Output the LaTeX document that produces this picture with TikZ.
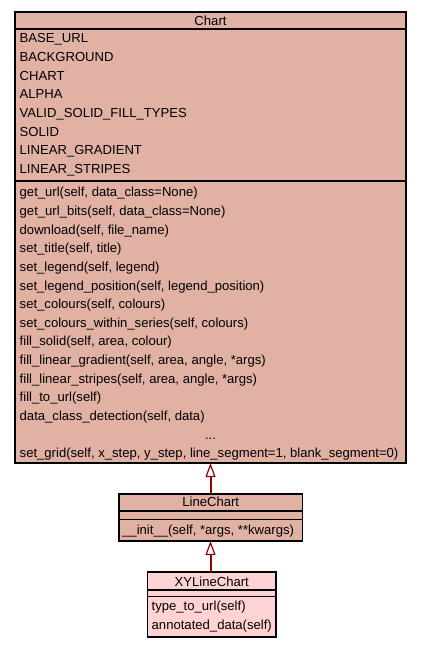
\documentclass[tikz,border=0pt]{standalone}
\usepackage{fontspec}
\setmainfont{Liberation Sans}
\usetikzlibrary{arrows.meta}
\definecolor{chartfill}{RGB}{225,177,164}
\definecolor{xyfill}{RGB}{255,211,211}
\definecolor{inh}{RGB}{153,0,0}
\begin{document}
\begin{tikzpicture}[x=1pt,y=-1pt,
  umlbox/.style={draw=black,line width=1.1pt,inner sep=0pt,outer sep=0pt},
  txt/.style={inner sep=0pt,anchor=base west,font=\fontsize{13.1}{16}\selectfont},
  ttl/.style={inner sep=0pt,anchor=base,font=\fontsize{13.1}{16}\selectfont},
  sep/.style={draw=black,line width=1.1pt},
  inherit/.style={draw=inh,line width=2pt,-{Triangle[width=10pt,length=14pt,fill=white,line width=1.2pt]}}]
\useasboundingbox (0,0) rectangle (421,648);
% Chart
\node[umlbox,fill=chartfill,minimum width=391pt,minimum height=451pt,anchor=north west] (chart) at (15,12) {};
\draw[sep] (15,29) -- (406,29);
\draw[sep] (15,181) -- (406,181);
\node[ttl] (charttitle) at (210.5,25) {Chart};
\foreach \t [count=\i from 0] in {BASE\_URL,BACKGROUND,CHART,ALPHA,VALID\_SOLID\_FILL\_TYPES,SOLID,LINEAR\_GRADIENT,LINEAR\_STRIPES}
  \node[txt] (a\i) at (19.5,{42.8+18.66*\i}) {\t};
\foreach \t [count=\i from 0] in {{get\_url(self, data\_class=None)},{get\_url\_bits(self, data\_class=None)},{download(self, file\_name)},{set\_title(self, title)},{set\_legend(self, legend)},{set\_legend\_position(self, legend\_position)},{set\_colours(self, colours)},{set\_colours\_within\_series(self, colours)},{fill\_solid(self, area, colour)},{fill\_linear\_gradient(self, area, angle, *args)},{fill\_linear\_stripes(self, area, angle, *args)},{fill\_to\_url(self)},{data\_class\_detection(self, data)}}
  \node[txt] (m\i) at (19.5,{196.7+18.66*\i}) {\t};
\node[ttl] (dots) at (210.5,{196.7+18.66*13}) {...};
\node[txt] (mgrid) at (19.5,{196.7+18.66*14}) {set\_grid(self, x\_step, y\_step, line\_segment=1, blank\_segment=0)};
% LineChart
\node[umlbox,fill=chartfill,minimum width=183.5pt,minimum height=47pt,anchor=north west] (line) at (119,494) {};
\draw[sep] (119,511) -- (302.5,511);
\draw[sep] (119,519.5) -- (302.5,519.5);
\node[ttl] (linetitle) at (210.75,506.5) {LineChart};
\node[txt] (linit) at (122,534.5) {\_\_init\_\_(self, *args, **kwargs)};
% XYLineChart
\node[umlbox,fill=xyfill,minimum width=128.5pt,minimum height=65pt,anchor=north west] (xy) at (147.5,572) {};
\draw[sep] (147.5,590) -- (276,590);
\draw[sep] (147.5,596.5) -- (276,596.5);
\node[ttl] (xytitle) at (211.75,586) {XYLineChart};
\node[txt] (xy1) at (151.5,610.5) {type\_to\_url(self)};
\node[txt] (xy2) at (151.5,629) {annotated\_data(self)};
% inheritance
\draw[inherit] (line.north -| chart.south) -- (chart.south);
\draw[inherit] (xy.north -| chart.south) -- (line.south -| chart.south);
\end{tikzpicture}
\end{document}
